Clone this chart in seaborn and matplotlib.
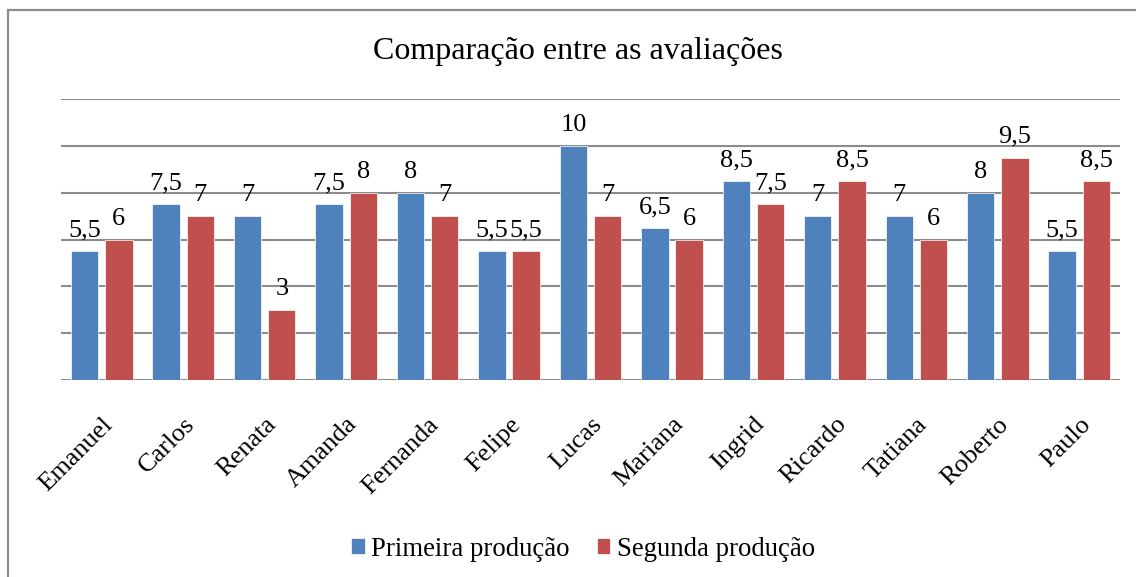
import numpy as np
import pandas as pd
import matplotlib
matplotlib.use('Agg')
import matplotlib.pyplot as plt
from matplotlib.patches import Rectangle
import seaborn as sns

alunos   = ['Emanuel', 'Carlos', 'Renata', 'Amanda', 'Fernanda', 'Felipe', 'Lucas',
            'Mariana', 'Ingrid', 'Ricardo', 'Tatiana', 'Roberto', 'Paulo']
primeira = [5.5, 7.5, 7, 7.5, 8, 5.5, 10, 6.5, 8.5, 7, 7, 8, 5.5]
segunda  = [6, 7, 3, 8, 7, 5.5, 7, 6, 7.5, 8.5, 6, 9.5, 8.5]
series   = ['Primeira produção', 'Segunda produção']

df = pd.DataFrame({'aluno': alunos * 2,
                   'nota': primeira + segunda,
                   'serie': [series[0]] * len(alunos) + [series[1]] * len(alunos)})

sns.set_style('white')
plt.rcParams['font.family'] = ['Liberation Serif', 'DejaVu Serif']
plt.rcParams['text.color'] = 'black'
plt.rcParams['xtick.color'] = 'black'

fig = plt.figure(figsize=(11.36, 5.77), dpi=100)
ax = fig.add_axes([61/1136, 1 - 380/577, (1120 - 61)/1136, (380 - 99)/577])

# moldura do grafico (como no Excel)
fig.patches.append(Rectangle((8/1136, -0.1), 1.2, 1 - 10/577 + 0.1, transform=fig.transFigure,
                             fill=False, edgecolor='#8c8c8c', linewidth=1.6))

ax.set_axisbelow(True)
for y in range(0, 13, 2):
    ax.axhline(y, color='#8c8c8c', linewidth=1.5, zorder=0)

sns.barplot(data=df, x='aluno', y='nota', hue='serie', order=alunos, hue_order=series,
            palette=['#4F81BD', '#C0504D'], saturation=1, width=0.84, gap=0.2, ax=ax,
            edgecolor='white', linewidth=0.5, errorbar=None)

for cont in ax.containers:
    labs = [('%g' % b.get_height()).replace('.', ',') for b in cont]
    ax.bar_label(cont, labels=labs, padding=7, fontsize=19, color='black')

ax.set_ylim(0, 12)
ax.set_xlim(-0.5, len(alunos) - 0.5)
ax.set_yticks([])
ax.set_xlabel('')
ax.set_ylabel('')
for s in ax.spines.values():
    s.set_visible(False)
ax.tick_params(axis='x', length=0, pad=24)
plt.setp(ax.get_xticklabels(), rotation=45, ha='right', rotation_mode='anchor', fontsize=19)

fig.text(578/1136, 1 - 52/577, 'Comparação entre as avaliações', ha='center', va='center',
         fontsize=23, color='black')

ax.legend(loc='center', bbox_to_anchor=(583/1136, 1 - 549/577), bbox_transform=fig.transFigure,
          ncol=2, frameon=False, fontsize=19.3, handlelength=0.5, handleheight=0.5,
          handletextpad=0.25, columnspacing=1.0, title=None)

fig.savefig('out.png', dpi=100)
